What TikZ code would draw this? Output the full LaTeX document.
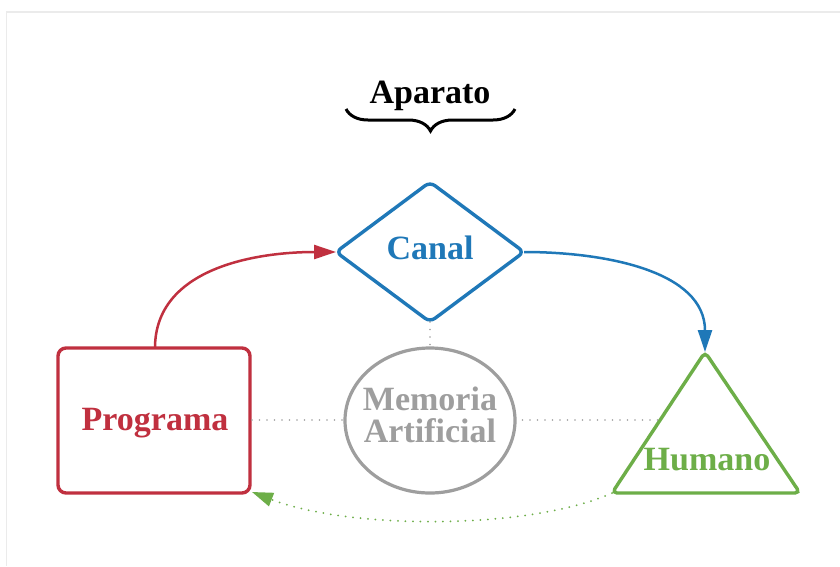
\documentclass[tikz,border=0pt]{standalone}
\usepackage{fontspec}
\setmainfont{Liberation Serif}
\usetikzlibrary{arrows.meta,decorations.pathreplacing}

\definecolor{progred}{HTML}{C0303F}
\definecolor{canalblue}{HTML}{1F78B8}
\definecolor{humgreen}{HTML}{6DAE48}
\definecolor{memgray}{HTML}{9E9E9E}
\definecolor{framegray}{HTML}{EBEBEB}

\tikzset{
  label/.style={font=\fontsize{34}{34}\selectfont\bfseries, anchor=base, inner sep=0pt},
  shapeline/.style={line width=3.4pt, rounded corners=6pt},
  flow/.style={line width=2.5pt, -{Triangle[length=22pt,width=14pt]}},
  dotline/.style={memgray, line width=1.7pt, line cap=round, dash pattern=on 0pt off 7.5pt},
  backflow/.style={humgreen, line width=2pt, line cap=round, dash pattern=on 0pt off 7.5pt,
    -{Triangle[length=21pt,width=14pt]}},
}

\begin{document}
\begin{tikzpicture}[x=1pt,y=-1pt]
\useasboundingbox (0,0) rectangle (840,566);
\fill[white] (0,0) rectangle (840,566);
\draw[framegray, line width=1.5pt] (6.5,566) -- (6.5,12) -- (840,12);

% heading with brace
\node[label] (aparato) at (430,103) {Aparato};
\draw[line width=3pt, decorate, decoration={brace, amplitude=22pt, mirror}]
  (346,109) -- (515,109);

% shape corner points
\coordinate (cL) at (336,252);
\coordinate (cT) at (430,182);
\coordinate (cR) at (524,252);
\coordinate (cB) at (430,322);
\coordinate (pTL) at (58,348);
\coordinate (pBR) at (250,493);
\coordinate (pTop) at (155,348);
\coordinate (pCorner) at (252,492);
\coordinate (hA) at (705,352);
\coordinate (hL) at (612,493);
\coordinate (hR) at (800,493);

% Canal diamond
\draw[canalblue, shapeline] (cL) -- (cT) -- (cR) -- (cB) -- cycle;
\node[label, text=canalblue] (canal) at (430,259) {Canal};

% Programa box
\draw[progred, shapeline, rounded corners=8pt] (pTL) rectangle (pBR);
\node[label, text=progred] (programa) at (155,430) {Programa};

% Memoria Artificial ellipse
\draw[memgray, line width=3.2pt] (430,420.5) ellipse [x radius=85, y radius=72.5];
\coordinate (mT) at (430,348);
\coordinate (mL) at (345,420);
\coordinate (mR) at (515,420);
\node[label, text=memgray] (memoria) at (430,410) {Memoria};
\node[label, text=memgray] (artificial) at (430,442) {Artificial};

% Humano triangle
\draw[humgreen, shapeline, rounded corners=5pt] (hA) -- (hR) -- (hL) -- cycle;
\node[label, text=humgreen] (humano) at (707,470) {Humano};

% dotted links
\coordinate (pR) at (252,420);
\coordinate (hSide) at (658,420);
\draw[dotline] (pR) -- (mL);
\draw[dotline] (mR) -- (hSide);
\draw[dotline] (cB) -- (mT);

% flow arrows
\draw[flow, progred] (pTop) to[out=90, in=180] (cL);
\draw[flow, canalblue] (cR) to[out=0, in=90] (hA);
\draw[backflow] (hL) .. controls (530,530) and (350,530) .. (pCorner);
\end{tikzpicture}
\end{document}
